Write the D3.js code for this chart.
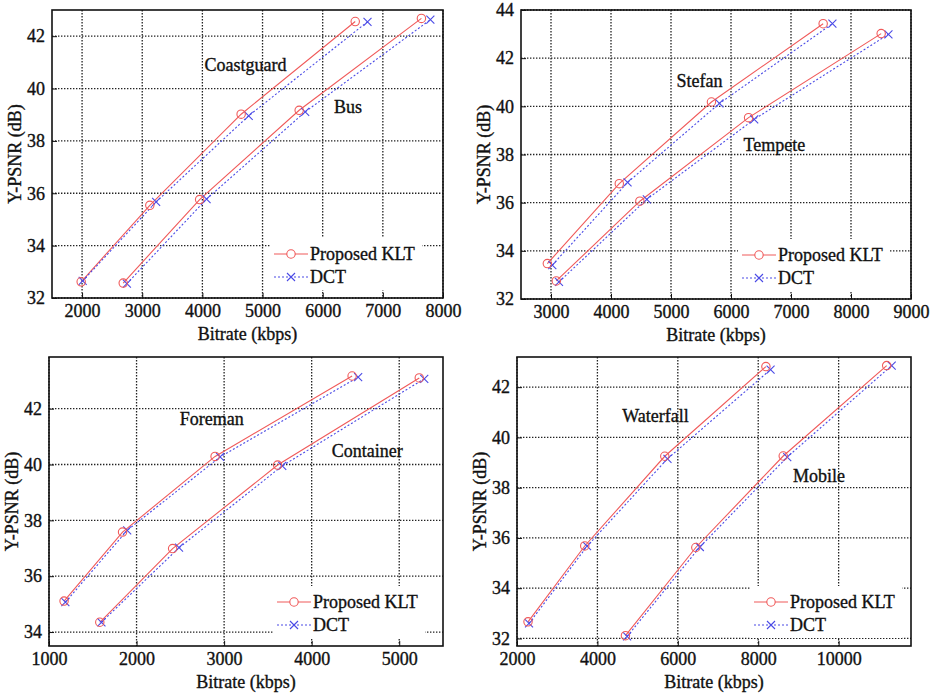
<!DOCTYPE html>
<html>
<head>
<meta charset="utf-8">
<script src="https://cdn.jsdelivr.net/npm/d3@7"></script>
<style>
  body { margin: 0; background: #fff; }
  text { font-family: "Liberation Serif", "Times New Roman", serif; fill: #111; stroke: #111; stroke-width: 0.35px; }
</style>
</head>
<body>
<div class="chart"></div>
<script>
// series values, [bitrate kbps, Y-PSNR dB]
const coastguardKLT = [[1985, 32.62], [3126, 35.54], [4644, 39.02], [6541, 42.56]];
const coastguardDCT = [[2010, 32.65], [3231, 35.67], [4770, 38.96], [6745, 42.55]];
const busKLT = [[2684, 32.57], [3954, 35.76], [5609, 39.17], [7641, 42.68]];
const busDCT = [[2745, 32.55], [4070, 35.78], [5709, 39.11], [7790, 42.63]];

const stefanKLT = [[2939, 33.47], [4138, 36.79], [5674, 40.18], [7536, 43.43]];
const stefanDCT = [[3022, 33.41], [4276, 36.84], [5807, 40.12], [7690, 43.43]];
const tempeteKLT = [[3088, 32.75], [4481, 36.06], [6293, 39.53], [8503, 43.02]];
const tempeteDCT = [[3133, 32.71], [4597, 36.14], [6387, 39.46], [8624, 42.99]];

const foremanKLT = [[1172, 35.11], [1840, 37.58], [2897, 40.29], [4462, 43.17]];
const foremanDCT = [[1187, 35.07], [1893, 37.64], [2954, 40.27], [4531, 43.13]];
const containerKLT = [[1580, 34.35], [2412, 36.99], [3611, 39.98], [5229, 43.10]];
const containerDCT = [[1599, 34.35], [2485, 37.02], [3664, 39.95], [5286, 43.07]];

const waterfallKLT = [[2274, 32.66], [3685, 35.68], [5676, 39.25], [8191, 42.82]];
const waterfallDCT = [[2299, 32.60], [3743, 35.67], [5743, 39.15], [8307, 42.70]];
const mobileKLT = [[4697, 32.11], [6448, 35.62], [8622, 39.26], [11195, 42.86]];
const mobileDCT = [[4739, 32.08], [6548, 35.64], [8722, 39.22], [11320, 42.86]];

// axis ranges and ticks
const xDomains = [[1500, 8000], [2500, 9000], [1000, 5500], [2000, 11800]];
const yDomains = [[32, 43], [32, 44], [33.5, 43.85], [31.7, 43.2]];
const xTicks = [d3.range(2000, 8001, 1000), d3.range(3000, 9001, 1000), d3.range(1000, 5001, 1000), d3.range(2000, 10001, 2000)];
const yTicks = [d3.range(32, 43, 2), d3.range(32, 45, 2), d3.range(34, 43, 2), d3.range(32, 43, 2)];

// sequence names and where they sit (data coords)
const seqNames = [["Coastguard", "Bus"], ["Stefan", "Tempete"], ["Foreman", "Container"], ["Waterfall", "Mobile"]];
const seqLabelPos = [[[4715, 40.92], [6420, 39.32]], [[5475, 41.05], [6724, 38.39]], [[2859, 41.64], [4634, 40.48]], [[5444, 40.85], [9510, 38.46]]];
const seriesKLT = [[coastguardKLT, busKLT], [stefanKLT, tempeteKLT], [foremanKLT, containerKLT], [waterfallKLT, mobileKLT]];
const seriesDCT = [[coastguardDCT, busDCT], [stefanDCT, tempeteDCT], [foremanDCT, containerDCT], [waterfallDCT, mobileDCT]];

const legendNames = ["Proposed KLT", "DCT"];
const xLabel = "Bitrate (kbps)";
const yLabel = "Y-PSNR (dB)";

// plot boxes (pixels) and legend offsets
const boxes = [
   { left: 52, top: 10, right: 443, bottom: 298, legendX: 169 },
   { left: 521, top: 10, right: 911, bottom: 299, legendX: 169 },
   { left: 49, top: 357, right: 443, bottom: 646, legendX: 166 },
   { left: 517, top: 357, right: 911, bottom: 646, legendX: 157 }
];

const RED = "#f05a5a";
const BLUE = "#4a4ae6";

const svg = d3.select(".chart").append("svg").attr("width", 936).attr("height", 694);

boxes.forEach((b, i) => {
   const w = b.right - b.left;
   const h = b.bottom - b.top;
   const x = d3.scaleLinear().domain(xDomains[i]).range([0, w]);
   const y = d3.scaleLinear().domain(yDomains[i]).range([h, 0]);
   const g = svg.append("g").attr("transform", `translate(${b.left},${b.top})`);

   // grid
   g.append("g")
      .selectAll("line")
      .data(xTicks[i])
      .enter()
      .append("line")
      .attr("x1", (d) => x(d)).attr("x2", (d) => x(d))
      .attr("y1", 0).attr("y2", h)
      .attr("stroke", "#222").attr("stroke-width", 1.3).attr("stroke-dasharray", "1.4,1.6");
   g.append("g")
      .selectAll("line")
      .data(yTicks[i])
      .enter()
      .append("line")
      .attr("x1", 0).attr("x2", w)
      .attr("y1", (d) => y(d)).attr("y2", (d) => y(d))
      .attr("stroke", "#222").attr("stroke-width", 1.3).attr("stroke-dasharray", "1.4,1.6");

   // axes
   const xAxis = g.append("g")
      .attr("transform", `translate(0,${h})`)
      .call(d3.axisBottom(x).tickValues(xTicks[i]).tickSize(-5).tickPadding(6).tickFormat(d3.format("d")));
   const yAxis = g.append("g")
      .call(d3.axisLeft(y).tickValues(yTicks[i]).tickSize(-5).tickPadding(7).tickFormat(d3.format("d")));
   [xAxis, yAxis].forEach((a) => {
      a.select(".domain").remove();
      a.selectAll("line").attr("stroke", "#111");
      a.selectAll("text").attr("font-size", 18).attr("fill", "#111")
         .attr("font-family", "Liberation Serif, serif");
   });

   // box
   g.append("rect").attr("width", w).attr("height", h)
      .attr("fill", "none").attr("stroke", "#111").attr("stroke-width", 1.6);

   // series
   const line = d3.line().x((d) => x(d[0])).y((d) => y(d[1]));
   seriesKLT[i].forEach((s) => {
      g.append("path").datum(s).attr("d", line)
         .attr("fill", "none").attr("stroke", RED).attr("stroke-width", 1.1);
   });
   seriesDCT[i].forEach((s) => {
      g.append("path").datum(s).attr("d", line)
         .attr("fill", "none").attr("stroke", BLUE).attr("stroke-width", 1.1).attr("stroke-dasharray", "2,2");
   });
   seriesDCT[i].forEach((s) => {
      g.append("g").selectAll("path").data(s).enter().append("path")
         .attr("d", (d) => `M${x(d[0]) - 4},${y(d[1]) - 4}L${x(d[0]) + 4},${y(d[1]) + 4}M${x(d[0]) - 4},${y(d[1]) + 4}L${x(d[0]) + 4},${y(d[1]) - 4}`)
         .attr("stroke", BLUE).attr("stroke-width", 1.1).attr("fill", "none");
   });
   seriesKLT[i].forEach((s) => {
      g.append("g").selectAll("circle").data(s).enter().append("circle")
         .attr("cx", (d) => x(d[0])).attr("cy", (d) => y(d[1])).attr("r", 4.2)
         .attr("fill", "none").attr("stroke", RED).attr("stroke-width", 1.1);
   });

   // sequence names
   g.selectAll(".seq").data(seqNames[i]).enter().append("text")
      .attr("x", (d, j) => x(seqLabelPos[i][j][0]))
      .attr("y", (d, j) => y(seqLabelPos[i][j][1]))
      .attr("dy", "0.35em")
      .attr("text-anchor", "middle")
      .attr("font-size", 18)
      .text((d) => d);

   // axis labels
   g.append("text").attr("x", w / 2).attr("y", h + 42).attr("text-anchor", "middle")
      .attr("font-size", 18).text(xLabel);
   g.append("text").attr("transform", `translate(-31,${h / 2}) rotate(-90)`).attr("text-anchor", "middle")
      .attr("font-size", 18).text(yLabel);

   // legend
   const lx = w - b.legendX;
   const legend = g.append("g").attr("transform", `translate(${lx},${h - 44})`);
   legend.append("rect").attr("x", -4).attr("y", -16).attr("width", 152).attr("height", 52).attr("fill", "#fff");
   legendNames.forEach((name, j) => {
      const ly = j * 23;
      const col = j === 0 ? RED : BLUE;
      legend.append("line").attr("x1", 0).attr("x2", 34).attr("y1", ly).attr("y2", ly)
         .attr("stroke", col).attr("stroke-width", 1.1).attr("stroke-dasharray", j === 0 ? null : "2,2");
      if (j === 0) {
         legend.append("circle").attr("cx", 17).attr("cy", ly).attr("r", 4.2)
            .attr("fill", "#fff").attr("stroke", col).attr("stroke-width", 1.1);
      } else {
         legend.append("path").attr("d", `M13,${ly - 4}L21,${ly + 4}M13,${ly + 4}L21,${ly - 4}`)
            .attr("stroke", col).attr("stroke-width", 1.1);
      }
      legend.append("text").attr("x", 36).attr("y", ly).attr("dy", "0.35em")
         .attr("font-size", 18).text(name);
   });
});
</script>
</body>
</html>
